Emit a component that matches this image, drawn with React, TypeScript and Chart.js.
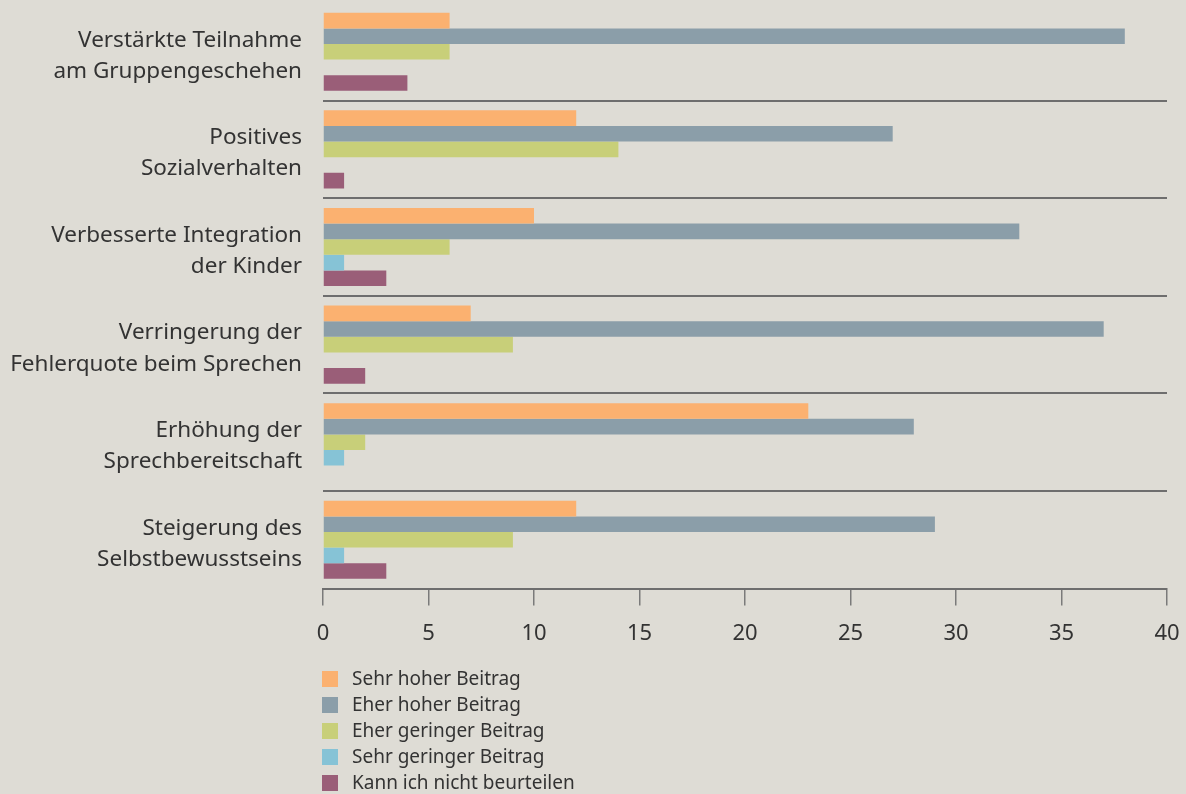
import React, { useEffect, useRef } from "react";
import { Chart, registerables } from "chart.js";

Chart.register(...registerables);

const categories: string[][] = [
  ["Verstärkte Teilnahme", "am Gruppengeschehen"],
  ["Positives", "Sozialverhalten"],
  ["Verbesserte Integration", "der Kinder"],
  ["Verringerung der", "Fehlerquote beim Sprechen"],
  ["Erhöhung der", "Sprechbereitschaft"],
  ["Steigerung des", "Selbstbewusstseins"],
];

const seriesLabels = [
  "Sehr hoher Beitrag",
  "Eher hoher Beitrag",
  "Eher geringer Beitrag",
  "Sehr geringer Beitrag",
  "Kann ich nicht beurteilen",
];

const sehrHoch = [6, 12, 10, 7, 23, 12];
const eherHoch = [38, 27, 33, 37, 28, 29];
const eherGering = [6, 14, 6, 9, 2, 9];
const sehrGering = [0, 0, 1, 0, 1, 1];
const kannNicht = [4, 1, 3, 2, 0, 3];

const seriesValues = [sehrHoch, eherHoch, eherGering, sehrGering, kannNicht];
const seriesColors = ["#fbb170", "#8b9ea9", "#c8cf79", "#86c3d6", "#9a5e78"];

const xTicks = [0, 5, 10, 15, 20, 25, 30, 35, 40];

const FONT = "'Noto Sans', 'Open Sans', sans-serif";
const TEXT = "#333333";

const verticalLegend = {
  id: "verticalLegend",
  afterDraw(chart: any) {
    const ctx = chart.ctx;
    const x0 = chart.chartArea.left - 1;
    const startY = 679;
    const step = 26;
    const box = 16;
    ctx.save();
    ctx.font = `19px ${FONT}`;
    ctx.textBaseline = "middle";
    ctx.textAlign = "left";
    chart.data.datasets.forEach((ds: any, i: number) => {
      const cy = startY + i * step;
      ctx.fillStyle = ds.backgroundColor;
      ctx.fillRect(x0, cy - box / 2, box, box);
      ctx.fillStyle = TEXT;
      ctx.fillText(ds.label, x0 + 30, cy + 1);
    });
    ctx.restore();
  },
};

export default function App() {
  const ref = useRef<HTMLCanvasElement>(null);

  useEffect(() => {
    if (!ref.current) return;
    const chart = new Chart(ref.current, {
      type: "bar",
      data: {
        labels: categories,
        datasets: seriesLabels.map((label, i) => ({
          label,
          data: seriesValues[i],
          backgroundColor: seriesColors[i],
          borderWidth: 0,
          barPercentage: 1.0,
          categoryPercentage: 0.8,
        })),
      },
      options: {
        indexAxis: "y",
        animation: false,
        responsive: false,
        maintainAspectRatio: false,
        layout: { padding: { top: 3, right: 19, bottom: 132, left: 0 } },
        plugins: {
          legend: { display: false },
          tooltip: { enabled: false },
        },
        scales: {
          x: {
            min: 0,
            max: 40,
            afterBuildTicks: (scale: any) => {
              scale.ticks = xTicks.map((v) => ({ value: v }));
            },
            afterFit: (scale: any) => {
              scale.paddingLeft = 0;
              scale.paddingRight = 0;
            },
            border: { display: true, color: "#6e6e6e", width: 2 },
            grid: {
              drawOnChartArea: false,
              drawTicks: true,
              tickLength: 17,
              color: "#7a7a7a",
              lineWidth: 1.5,
            },
            ticks: {
              padding: 15,
              color: TEXT,
              font: { family: FONT, size: 22 },
            },
          },
          y: {
            afterFit: (scale: any) => {
              scale.width = 323;
              scale.paddingTop = 0;
              scale.paddingBottom = 0;
            },
            border: { display: false },
            grid: {
              drawTicks: false,
              color: (c: any) => (c.index === 0 ? "rgba(0,0,0,0)" : "#6e6e6e"),
              lineWidth: 2,
            },
            ticks: {
              padding: 21,
              labelOffset: 4,
              color: TEXT,
              font: { family: FONT, size: 22.5, lineHeight: 1.38 },
            },
          },
        },
      },
      plugins: [verticalLegend],
    });
    return () => chart.destroy();
  }, []);

  return (
    <div
      style={{
        position: "fixed",
        left: 0,
        top: 0,
        width: 1186,
        height: 794,
        background: "#dedcd5",
      }}
    >
      <canvas ref={ref} width={1186} height={794} style={{ display: "block" }} />
    </div>
  );
}
